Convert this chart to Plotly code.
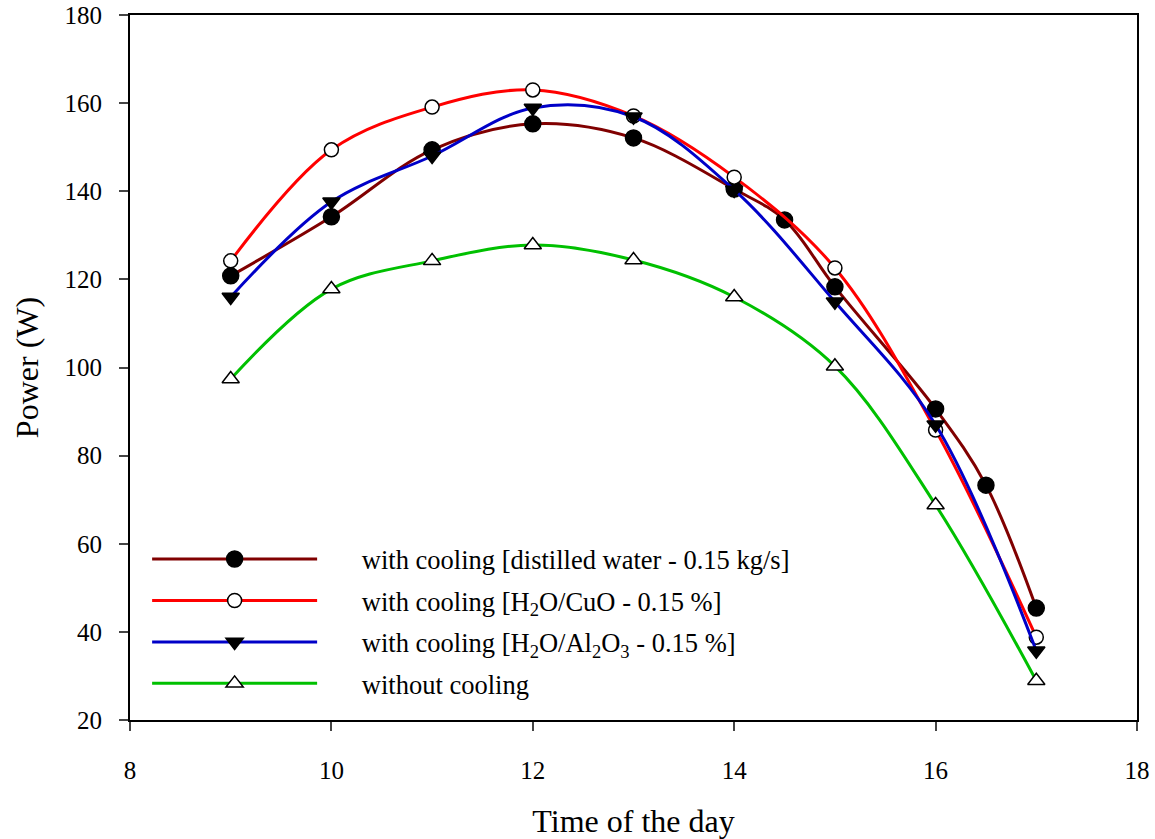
import plotly.graph_objects as go

# Data
x_dw = [9, 10, 11, 12, 13, 14, 14.5, 15, 16, 16.5, 17]
y_dw = [120.8, 134.2, 149.4, 155.3, 152.1, 140.5, 133.5, 118.3, 90.6, 73.3, 45.4]

x_cuo = [9, 10, 11, 12, 13, 14, 15, 16, 17]
y_cuo = [124.2, 149.4, 159.1, 163.0, 157.1, 143.2, 122.6, 85.8, 38.8]

x_al = [9, 10, 11, 12, 13, 14, 15, 16, 17]
y_al = [116.0, 137.6, 148.0, 158.9, 156.9, 140.3, 114.9, 87.0, 35.7]

x_nc = [9, 10, 11, 12, 13, 14, 15, 16, 17]
y_nc = [97.4, 117.8, 124.2, 127.8, 124.4, 116.0, 100.3, 68.8, 28.9]

x_ticks = [8, 10, 12, 14, 16, 18]
y_ticks = [20, 40, 60, 80, 100, 120, 140, 160, 180]

names = [
    "with cooling [distilled water - 0.15 kg/s]",
    "with cooling [H<sub>2</sub>O/CuO - 0.15 %]",
    "with cooling [H<sub>2</sub>O/Al<sub>2</sub>O<sub>3</sub> - 0.15 %]",
    "without cooling",
]
colors = ["#800000", "#ff0000", "#0000c8", "#00c000"]
symbols = ["circle", "circle", "triangle-down", "triangle-up"]
fills = ["black", "white", "black", "white"]
sizes = [16, 14, 15, 15]

FONT = "Liberation Serif, Times New Roman, serif"
pad = "\u00a0" * 6

fig = go.Figure()
for i, (xs, ys) in enumerate([(x_dw, y_dw), (x_cuo, y_cuo), (x_al, y_al), (x_nc, y_nc)]):
    fig.add_trace(go.Scatter(
        x=xs, y=ys, mode="lines+markers", name=pad + names[i],
        legendgroup=str(i),
        line=dict(color=colors[i], width=3, shape="spline", smoothing=1),
        marker=dict(symbol=symbols[i], size=sizes[i], color=fills[i],
                    line=dict(color="black", width=1.5)),
    ))

fig.update_layout(
    width=1155, height=839,
    margin=dict(l=130, r=18, t=15, b=119),
    plot_bgcolor="white", paper_bgcolor="white",
    font=dict(family=FONT, color="black", size=26),
    showlegend=True,
    legend=dict(
        x=0.017, y=0.262, xanchor="left", yanchor="top",
        bgcolor="rgba(0,0,0,0)", borderwidth=0,
        itemwidth=165, tracegroupgap=4,
        font=dict(family=FONT, size=26.5, color="black"),
    ),
)
fig.update_xaxes(
    range=[8, 18], tickvals=x_ticks, ticks="outside", ticklen=9, tickwidth=2,
    showline=True, linecolor="black", linewidth=2, mirror=True, showgrid=False,
    zeroline=False, automargin=False, ticklabelstandoff=18,
    tickfont=dict(size=25, family=FONT),
    title=dict(text="Time of the day", font=dict(size=32, family=FONT), standoff=30),
)
fig.update_yaxes(
    range=[20, 180], tickvals=y_ticks, ticks="outside", ticklen=9, tickwidth=2,
    showline=True, linecolor="black", linewidth=2, mirror=True, showgrid=False,
    zeroline=False, automargin=False, ticklabelstandoff=12,
    tickfont=dict(size=25, family=FONT),
    title=dict(text="Power (W)", font=dict(size=32, family=FONT), standoff=16),
)

fig.write_html("out.html")
